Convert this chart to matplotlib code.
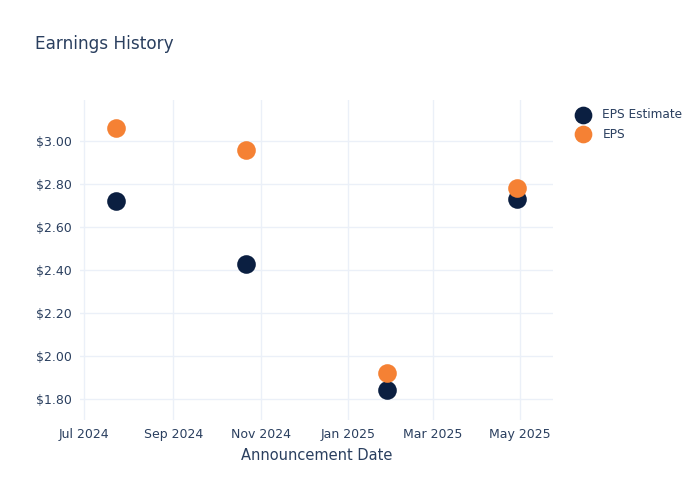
import matplotlib
matplotlib.use("Agg")
import matplotlib.pyplot as plt
import matplotlib.dates as mdates
import numpy as np
import pandas as pd

dates = pd.to_datetime(["2024-07-23", "2024-10-22", "2025-01-28", "2025-04-29"])
eps_estimate = [2.72, 2.43, 1.84, 2.73]
eps_actual = [3.06, 2.96, 1.92, 2.78]

NAVY = "#0b1f41"
ORANGE = "#f58134"
TEXT = "#2a3f5f"
GRID = "#ebf0f8"

fig = plt.figure(figsize=(7, 5), dpi=100)
ax = fig.add_axes([80 / 700, 80 / 500, 473 / 700, 320 / 500])

ax.scatter(dates, eps_estimate, s=180, color=NAVY, label="EPS Estimate", zorder=3, linewidths=0)
ax.scatter(dates, eps_actual, s=180, color=ORANGE, label="EPS", zorder=4, linewidths=0)

ax.set_xlim(pd.Timestamp("2024-06-28"), pd.Timestamp("2025-05-24"))
ax.set_ylim(1.702, 3.191)

ax.xaxis.set_major_locator(mdates.MonthLocator(bymonth=[1, 3, 5, 7, 9, 11]))
ax.xaxis.set_major_formatter(mdates.DateFormatter("%b %Y"))
ax.set_yticks([1.8, 2.0, 2.2, 2.4, 2.6, 2.8, 3.0])
ax.yaxis.set_major_formatter(matplotlib.ticker.FuncFormatter(lambda v, p: f"${v:.2f}"))

ax.grid(True, color=GRID, linewidth=1)
ax.set_axisbelow(True)
for sp in ax.spines.values():
    sp.set_visible(False)
ax.tick_params(length=0, colors=TEXT, labelsize=9, pad=6)

ax.set_xlabel("Announcement Date", color=TEXT, fontsize=10.5, labelpad=5)
fig.text(35 / 700, 1 - 44 / 500, "Earnings History", color=TEXT, fontsize=12.2, va="center")

leg = ax.legend(loc="upper left", bbox_to_anchor=(571 / 700, 1 - 108 / 500), bbox_transform=fig.transFigure,
                frameon=False, fontsize=8.7, labelcolor=TEXT, handletextpad=0.6, labelspacing=0.55,
                borderaxespad=0, borderpad=0, markerscale=0.95)

plt.savefig("out.png", dpi=100)
